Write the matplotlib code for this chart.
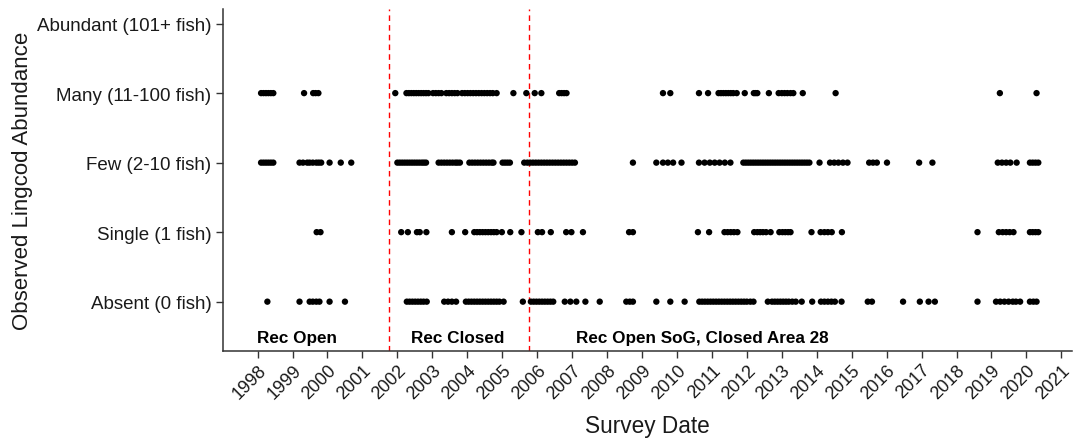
import matplotlib
matplotlib.use("Agg")
import matplotlib.pyplot as plt

plt.rcParams['font.family'] = ['Liberation Sans', 'DejaVu Sans']

# Abundance categories (bottom to top)
categories = ["Absent (0 fish)", "Single (1 fish)", "Few (2-10 fish)",
              "Many (11-100 fish)", "Abundant (101+ fish)"]

# Survey dates (decimal years) for each observed abundance class
absent_dates = [
    1998.28,
    1999.20, 1999.49, 1999.58, 1999.68, 1999.77, 2000.06, 2000.50,
    2002.27, 2002.35, 2002.43, 2002.51, 2002.59, 2002.67, 2002.75, 2002.84,
    2003.34, 2003.45, 2003.56, 2003.68,
    2003.96, 2004.04, 2004.12, 2004.20, 2004.28, 2004.36, 2004.44, 2004.52,
    2004.60, 2004.68, 2004.76, 2004.84, 2004.92, 2005.04,
    2005.59,
    2005.82, 2005.90, 2005.98, 2006.06, 2006.14, 2006.22, 2006.30, 2006.38, 2006.46,
    2006.79, 2006.95, 2007.12, 2007.38, 2007.79, 2008.55, 2008.65, 2008.74,
    2009.41, 2009.81, 2010.22,
    2010.64, 2010.72, 2010.80, 2010.88, 2010.96, 2011.04, 2011.12, 2011.20,
    2011.28, 2011.36, 2011.44, 2011.52, 2011.60, 2011.68, 2011.76, 2011.84,
    2011.92, 2012.00, 2012.10, 2012.19,
    2012.60, 2012.72, 2012.80, 2012.88, 2012.96, 2013.04, 2013.12, 2013.20,
    2013.30, 2013.40, 2013.57,
    2013.87, 2014.12, 2014.22, 2014.32, 2014.42, 2014.52, 2014.71,
    2015.46, 2015.58, 2016.47, 2016.95, 2017.20, 2017.38, 2018.60,
    2019.13, 2019.25, 2019.37, 2019.49, 2019.61, 2019.70, 2019.82,
    2020.10, 2020.20, 2020.29,
]

single_dates = [
    1999.69, 1999.80,
    2002.11, 2002.30, 2002.56, 2002.64, 2002.83,
    2003.56, 2003.94,
    2004.20, 2004.28, 2004.36, 2004.44, 2004.52, 2004.60, 2004.68, 2004.76,
    2004.84, 2004.99,
    2005.23, 2005.55, 2006.02, 2006.14, 2006.39, 2006.83, 2006.98, 2007.31,
    2008.63, 2008.74,
    2010.60, 2010.92, 2011.36, 2011.45, 2011.54, 2011.63, 2011.73,
    2012.21, 2012.30, 2012.38, 2012.46, 2012.55, 2012.68,
    2012.93, 2013.02, 2013.10, 2013.18, 2013.25,
    2013.85, 2014.11, 2014.22, 2014.32, 2014.43, 2014.72,
    2018.60,
    2019.21, 2019.32, 2019.42, 2019.52, 2019.63,
    2020.10, 2020.18, 2020.26, 2020.34,
]

few_dates = [
    1998.10, 1998.17, 1998.24, 1998.31, 1998.38, 1998.45,
    1999.20, 1999.30, 1999.42, 1999.49, 1999.58, 1999.68, 1999.75, 1999.82,
    2000.06, 2000.38, 2000.68,
    2002.00, 2002.07, 2002.14, 2002.21, 2002.28, 2002.35, 2002.42, 2002.49,
    2002.56, 2002.63, 2002.70, 2002.76, 2002.82,
    2003.18, 2003.26, 2003.34, 2003.42, 2003.50, 2003.58, 2003.66, 2003.72, 2003.79,
    2004.06, 2004.14, 2004.22, 2004.30, 2004.38, 2004.46, 2004.54, 2004.62,
    2004.70, 2004.75,
    2005.01, 2005.08, 2005.15, 2005.22,
    2005.63, 2005.72, 2005.80, 2005.88, 2005.96, 2006.04, 2006.12, 2006.20,
    2006.28, 2006.36, 2006.44, 2006.52, 2006.60, 2006.68, 2006.76, 2006.84,
    2006.92, 2007.00, 2007.08,
    2008.74,
    2009.41, 2009.60, 2009.74, 2009.89, 2010.13,
    2010.63, 2010.79, 2010.94, 2011.08, 2011.22, 2011.37, 2011.53,
    2011.90, 2011.97, 2012.04, 2012.11, 2012.18, 2012.25, 2012.32, 2012.39,
    2012.46, 2012.53, 2012.60, 2012.67, 2012.74, 2012.81, 2012.88, 2012.95,
    2013.02, 2013.09, 2013.16, 2013.23, 2013.30, 2013.37, 2013.44, 2013.51,
    2013.58, 2013.65, 2013.72, 2013.79,
    2014.08, 2014.38, 2014.50, 2014.62, 2014.75, 2014.88,
    2015.50, 2015.61, 2015.72, 2016.01, 2016.93, 2017.31,
    2019.18, 2019.30, 2019.42, 2019.54, 2019.72,
    2020.10, 2020.18, 2020.26, 2020.34,
]

many_dates = [
    1998.10, 1998.17, 1998.24, 1998.31, 1998.38, 1998.45,
    1999.33, 1999.59, 1999.66, 1999.74,
    2001.94,
    2002.26, 2002.33, 2002.40, 2002.47, 2002.54, 2002.61, 2002.68, 2002.75,
    2002.82, 2002.89, 2003.02, 2003.10, 2003.18, 2003.26, 2003.40, 2003.48,
    2003.56, 2003.64, 2003.72, 2003.85, 2003.93, 2004.01, 2004.09, 2004.17,
    2004.25, 2004.33, 2004.41, 2004.49, 2004.57, 2004.65, 2004.73, 2004.84,
    2005.32, 2005.69, 2005.93, 2006.12,
    2006.63, 2006.70, 2006.77, 2006.84,
    2009.60, 2009.81, 2010.63, 2010.89,
    2011.19, 2011.26, 2011.33, 2011.40, 2011.47, 2011.54, 2011.61, 2011.71,
    2011.94, 2012.20, 2012.25, 2012.30, 2012.63,
    2012.91, 2013.00, 2013.08, 2013.16, 2013.25, 2013.33, 2013.60,
    2014.54, 2019.24, 2020.29,
]

abundant_dates = []

# Management periods
closure_start = 2001.76
closure_end = 2005.76
period_labels = ["Rec Open", "Rec Closed", "Rec Open SoG, Closed Area 28"]
period_centers = [1999.14, 2003.72, 2010.72]

years = list(range(1998, 2022))

fig = plt.figure(figsize=(10.74, 4.39), dpi=100)
ax = fig.add_axes([0.2073, 0.1975, 0.7907, 0.7797])

series = [absent_dates, single_dates, few_dates, many_dates, abundant_dates]
for level, dates in enumerate(series, start=1):
    ax.scatter(dates, [level] * len(dates), s=21, color="black",
               edgecolors="none", zorder=3)

for xv in (closure_start, closure_end):
    ax.axvline(xv, color="#ff0000", linestyle=(0, (4, 3)), linewidth=1.0,
               zorder=2)

for label, xc in zip(period_labels, period_centers):
    ax.text(xc, 0.49, label, ha="center", va="center", fontsize=12.3,
            fontweight="bold", color="black")

ax.set_xlim(1997.0, 2021.3)
ax.set_ylim(0.286, 5.21)
ax.set_yticks(range(1, 6))
ax.set_yticklabels(categories)
ax.set_xticks(years)
ax.set_xticklabels([str(y) for y in years], rotation=45, ha="right",
                   va="top", rotation_mode="anchor")

for side in ("top", "right"):
    ax.spines[side].set_visible(False)
for side in ("left", "bottom"):
    ax.spines[side].set_color("#333333")
    ax.spines[side].set_linewidth(1.1)

ax.tick_params(axis="both", colors="#333333", length=5, width=1.0)
ax.tick_params(axis="y", labelsize=13.5, labelcolor="#1a1a1a", pad=3)
ax.tick_params(axis="x", labelsize=13, labelcolor="#1a1a1a", pad=2)

ax.set_xlabel("Survey Date", fontsize=16.3, color="#1a1a1a", labelpad=9)
ax.set_ylabel("Observed Lingcod Abundance", fontsize=16, color="#1a1a1a",
              labelpad=3)

fig.savefig("out.png", dpi=100)
